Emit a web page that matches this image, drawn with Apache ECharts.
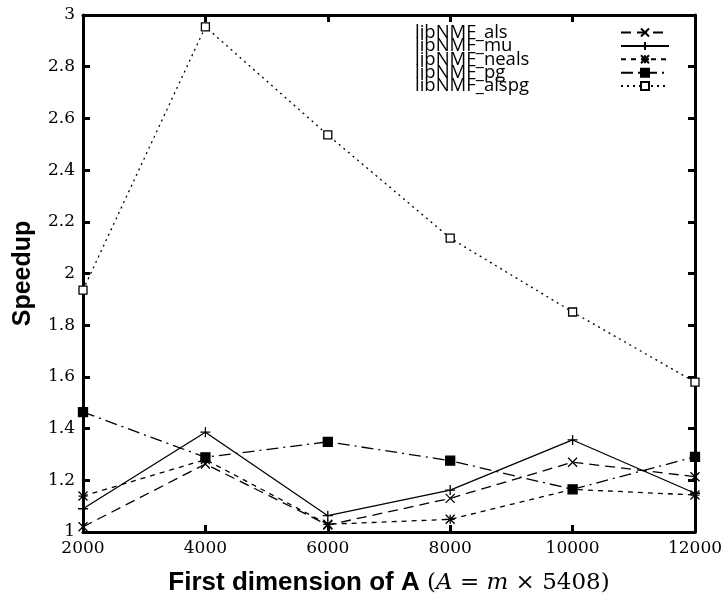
<!DOCTYPE html>
<html><head><meta charset="utf-8">
<script src="https://cdn.jsdelivr.net/npm/echarts@6/dist/echarts.min.js"></script>
<style>html,body{margin:0;padding:0;background:#fff}#c{width:721px;height:601px}</style>
</head><body><div id="c"></div>
<script>
const xValues = [2000, 4000, 6000, 8000, 10000, 12000];
const seriesNames = ['libNMF_als', 'libNMF_mu', 'libNMF_neals', 'libNMF_pg', 'libNMF_alspg'];
const alsValues   = [1.02, 1.263, 1.027, 1.13, 1.27, 1.214];
const muValues    = [1.09, 1.386, 1.063, 1.162, 1.356, 1.15];
const nealsValues = [1.139, 1.28, 1.03, 1.049, 1.165, 1.143];
const pgValues    = [1.464, 1.289, 1.349, 1.276, 1.165, 1.291];
const alspgValues = [1.936, 2.954, 2.536, 2.137, 1.851, 1.58];
const yTicks = [1, 1.2, 1.4, 1.6, 1.8, 2, 2.2, 2.4, 2.6, 2.8, 3];

const pairs = v => xValues.map((x, i) => [x, v[i]]);
const crossPath = 'path://M0,0L10,10M10,0L0,10';
const plusPath = 'path://M5,0L5,10M0,5L10,5';
const starPath = 'path://M0,0L10,10M10,0L0,10M5,0L5,10M0,5L10,5';

function mk(name, data, dash, symbol, size, fill) {
  return {
    name: name, type: 'line', data: pairs(data),
    symbol: symbol, symbolSize: size,
    lineStyle: { color: '#000', width: 1.3, type: dash },
    itemStyle: { color: fill, borderColor: '#000', borderWidth: 1.3 },
    emphasis: { disabled: true }, animation: false
  };
}

const chart = echarts.init(document.getElementById('c'));
const serif = '"DejaVu Serif", "Liberation Serif", serif';
chart.setOption({
  animation: false,
  grid: { left: 83, right: 26, top: 15, bottom: 69, containLabel: false, outerBoundsMode: 'none' },
  legend: {
    right: 46, top: 18, orient: 'vertical', align: 'right',
    itemWidth: 48, itemHeight: 10, itemGap: -5.6,
    formatter: n => '{a|' + n + '}',
    textStyle: { color: '#000', rich: { a: { fontFamily: '"Open Sans", "DejaVu Sans", sans-serif', fontSize: 18.5, color: '#000', width: 201, align: 'left', lineHeight: 18 } } },
    data: seriesNames
  },
  xAxis: [{
    type: 'value', min: 2000, max: 12000, interval: 2000,
    axisLine: { lineStyle: { color: '#000', width: 3 } },
    axisTick: { inside: true, length: 7, lineStyle: { width: 3, color: '#000' } },
    axisLabel: { fontFamily: serif, fontSize: 17, color: '#000', margin: 8, formatter: v => String(v) },
    splitLine: { show: false },
    name: '{b|First dimension of A}{m| (}{i|A}{m| = }{i|m}{m| × 5408)}',
    nameLocation: 'middle', nameGap: 38,
    nameTextStyle: { rich: {
      b: { fontFamily: '"Liberation Sans", Arial, sans-serif', fontWeight: 'bold', fontSize: 26, color: '#000' },
      m: { fontFamily: serif, fontSize: 23, color: '#000' },
      i: { fontFamily: serif, fontStyle: 'italic', fontSize: 23, color: '#000' }
    } }
  }, {
    type: 'value', min: 2000, max: 12000, interval: 2000, position: 'top',
    axisLine: { lineStyle: { color: '#000', width: 3 } },
    axisTick: { inside: true, length: 7, lineStyle: { width: 3, color: '#000' } },
    axisLabel: { show: false }, splitLine: { show: false }
  }],
  yAxis: [{
    type: 'value', min: 1, max: 3, interval: 0.2,
    axisLine: { show: true, lineStyle: { color: '#000', width: 3 } },
    axisTick: { show: true, inside: true, length: 7, lineStyle: { width: 3, color: '#000' } },
    axisLabel: { fontFamily: serif, fontSize: 17, color: '#000', margin: 8,
      formatter: v => { const t = yTicks.find(k => Math.abs(k - v) < 1e-6); return t === undefined ? '' : String(t); } },
    splitLine: { show: false },
    name: 'Speedup', nameLocation: 'middle', nameGap: 47,
    nameTextStyle: { fontFamily: '"Liberation Sans", Arial, sans-serif', fontWeight: 'bold', fontSize: 25, color: '#000' }
  }, {
    type: 'value', min: 1, max: 3, interval: 0.2, position: 'right',
    axisLine: { show: true, lineStyle: { color: '#000', width: 3 } },
    axisTick: { show: true, inside: true, length: 7, lineStyle: { width: 3, color: '#000' } },
    axisLabel: { show: false }, splitLine: { show: false }
  }],
  series: [
    mk(seriesNames[0], alsValues, [10, 6], crossPath, 9, 'none'),
    mk(seriesNames[1], muValues, 'solid', plusPath, 10, 'none'),
    mk(seriesNames[2], nealsValues, [5, 5], starPath, 9, 'none'),
    mk(seriesNames[3], pgValues, [12, 5, 2, 5], 'rect', 9, '#000'),
    mk(seriesNames[4], alspgValues, [2, 4], 'rect', 8, '#fff')
  ]
});
</script></body></html>
